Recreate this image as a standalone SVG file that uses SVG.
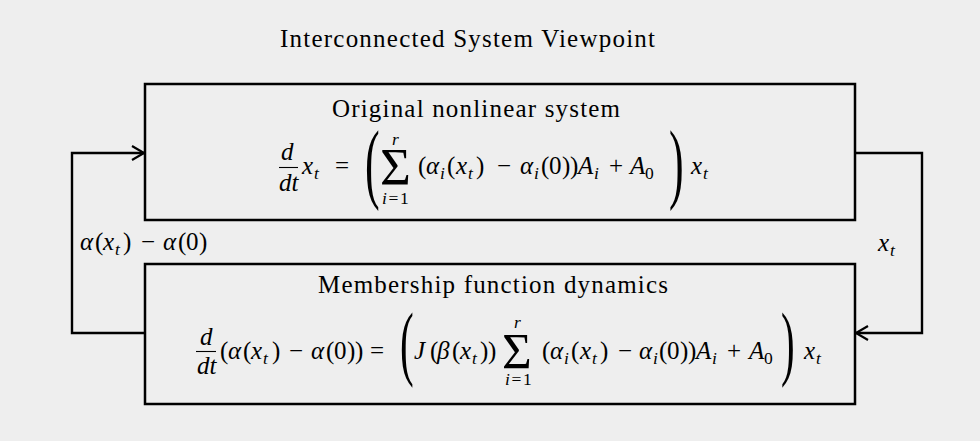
<svg xmlns="http://www.w3.org/2000/svg" width="980" height="441" viewBox="0 0 980 441">
<style>
text { font-family: 'Liberation Serif', serif; fill: #000; }
.h { font-size: 25px; }
.m { font-size: 25px; }
.i { font-style: italic; }
.s { font-size: 17.5px; }
.box { fill: #eeeeee; stroke: #000; stroke-width: 2.5; }
.conn { fill: none; stroke: #000; stroke-width: 2.4; }
.frac { stroke: #000; stroke-width: 1.1; }
</style>
<defs>
<marker id="arr" markerUnits="userSpaceOnUse" markerWidth="20" markerHeight="20" refX="0" refY="0" viewBox="-14 -10 16 20" orient="auto">
<path d="M -12 -7 L 0 0 L -12 7" fill="none" stroke="#000" stroke-width="2.2"/>
</marker>
</defs>
<rect x="0" y="0" width="980" height="441" fill="#eeeeee"/>
<g id="title">
<text class="h" x="280" y="47" textLength="375" lengthAdjust="spacing">Interconnected System Viewpoint</text>
</g>
<g id="connectors">
<path class="conn" d="M 145 333 L 72 333 L 72 153 L 144 153" marker-end="url(#arr)"/>
<path class="conn" d="M 855 153 L 922 153 L 922 333 L 856 333" marker-end="url(#arr)"/>
<g id="label-alpha">
<text class="m i" x="80" y="250">α</text>
<text class="m" x="95" y="250">(</text>
<text class="m i" x="103" y="250">x</text>
<text class="s i" x="115" y="255">t</text>
<text class="m" x="123" y="250">)</text>
<text class="m" x="141" y="250">−</text>
<text class="m i" x="163" y="250">α</text>
<text class="m" x="178" y="250">(</text>
<text class="m" x="186" y="250">0</text>
<text class="m" x="199" y="250">)</text>
</g>
<g id="label-xt">
<text class="m i" x="878" y="251">x</text>
<text class="s i" x="890" y="256">t</text>
</g>
</g>
<g id="node-original">
<rect class="box" x="145" y="84" width="710" height="136"/>
<text class="h" x="332" y="117" textLength="288" lengthAdjust="spacing">Original nonlinear system</text>
<text class="m i" x="281" y="160">d</text>
<line class="frac" x1="279" y1="167.5" x2="298" y2="167.5"/>
<text class="m i" x="279" y="191">dt</text>
<text class="m i" x="302" y="174">x</text>
<text class="s i" x="314" y="179">t</text>
<text class="m" x="335" y="174">=</text>
<text transform="translate(365,191.5) scale(0.5,1)" font-size="88">(</text>
<text x="380" y="185" font-size="53">Σ</text>
<text class="s i" x="392" y="145">r</text>
<text class="s i" x="382" y="204">i</text>
<text class="s" x="388.5" y="204">=</text>
<text class="s" x="400" y="204">1</text>
<text class="m" x="418" y="174">(</text>
<text class="m i" x="426" y="174">α</text>
<text class="s i" x="440" y="179">i</text>
<text class="m" x="447" y="174">(</text>
<text class="m i" x="456" y="174">x</text>
<text class="s i" x="468" y="179">t</text>
<text class="m" x="476" y="174">)</text>
<text class="m" x="497" y="174">−</text>
<text class="m i" x="520" y="174">α</text>
<text class="s i" x="534" y="179">i</text>
<text class="m" x="541" y="174">(</text>
<text class="m" x="549" y="174">0</text>
<text class="m" x="562" y="174">)</text>
<text class="m" x="570" y="174">)</text>
<text class="m i" x="578" y="174">A</text>
<text class="s i" x="594" y="179">i</text>
<text class="m" x="609" y="174">+</text>
<text class="m i" x="630" y="174">A</text>
<text class="s" x="645" y="179">0</text>
<text transform="translate(669,191.5) scale(0.5,1)" font-size="88">)</text>
<text class="m i" x="691" y="174">x</text>
<text class="s i" x="703" y="179">t</text>
</g>
<g id="node-membership">
<rect class="box" x="145" y="264" width="710" height="140"/>
<text class="h" x="318" y="293" textLength="350" lengthAdjust="spacing">Membership function dynamics</text>
<text class="m i" x="200" y="345">d</text>
<line class="frac" x1="196" y1="351.5" x2="216" y2="351.5"/>
<text class="m i" x="197" y="374">dt</text>
<text class="m" x="220" y="359">(</text>
<text class="m i" x="228" y="359">α</text>
<text class="m" x="243" y="359">(</text>
<text class="m i" x="251" y="359">x</text>
<text class="s i" x="263" y="364">t</text>
<text class="m" x="272" y="359">)</text>
<text class="m" x="289" y="359">−</text>
<text class="m i" x="311" y="359">α</text>
<text class="m" x="326" y="359">(</text>
<text class="m" x="334" y="359">0</text>
<text class="m" x="347" y="359">)</text>
<text class="m" x="355" y="359">)</text>
<text class="m" x="370" y="359">=</text>
<text transform="translate(400,370.4) scale(0.5,1)" font-size="82">(</text>
<text class="m i" x="414" y="359">J</text>
<text class="m" x="430" y="359">(</text>
<text class="m i" x="437" y="359">β</text>
<text class="m" x="452" y="359">(</text>
<text class="m i" x="460" y="359">x</text>
<text class="s i" x="472" y="364">t</text>
<text class="m" x="480" y="359">)</text>
<text class="m" x="488" y="359">)</text>
<text x="502" y="368" font-size="51">Σ</text>
<text class="s i" x="514" y="328">r</text>
<text class="s i" x="505" y="385">i</text>
<text class="s" x="511.5" y="385">=</text>
<text class="s" x="523" y="385">1</text>
<text class="m" x="542" y="359">(</text>
<text class="m i" x="550" y="359">α</text>
<text class="s i" x="564" y="364">i</text>
<text class="m" x="571" y="359">(</text>
<text class="m i" x="580" y="359">x</text>
<text class="s i" x="592" y="364">t</text>
<text class="m" x="600" y="359">)</text>
<text class="m" x="618" y="359">−</text>
<text class="m i" x="639" y="359">α</text>
<text class="s i" x="653" y="364">i</text>
<text class="m" x="659" y="359">(</text>
<text class="m" x="667" y="359">0</text>
<text class="m" x="680" y="359">)</text>
<text class="m" x="688" y="359">)</text>
<text class="m i" x="696" y="359">A</text>
<text class="s i" x="712" y="364">i</text>
<text class="m" x="727" y="359">+</text>
<text class="m i" x="749" y="359">A</text>
<text class="s" x="764" y="364">0</text>
<text transform="translate(781,370.4) scale(0.5,1)" font-size="82">)</text>
<text class="m i" x="804" y="359">x</text>
<text class="s i" x="816" y="364">t</text>
</g>
</svg>
